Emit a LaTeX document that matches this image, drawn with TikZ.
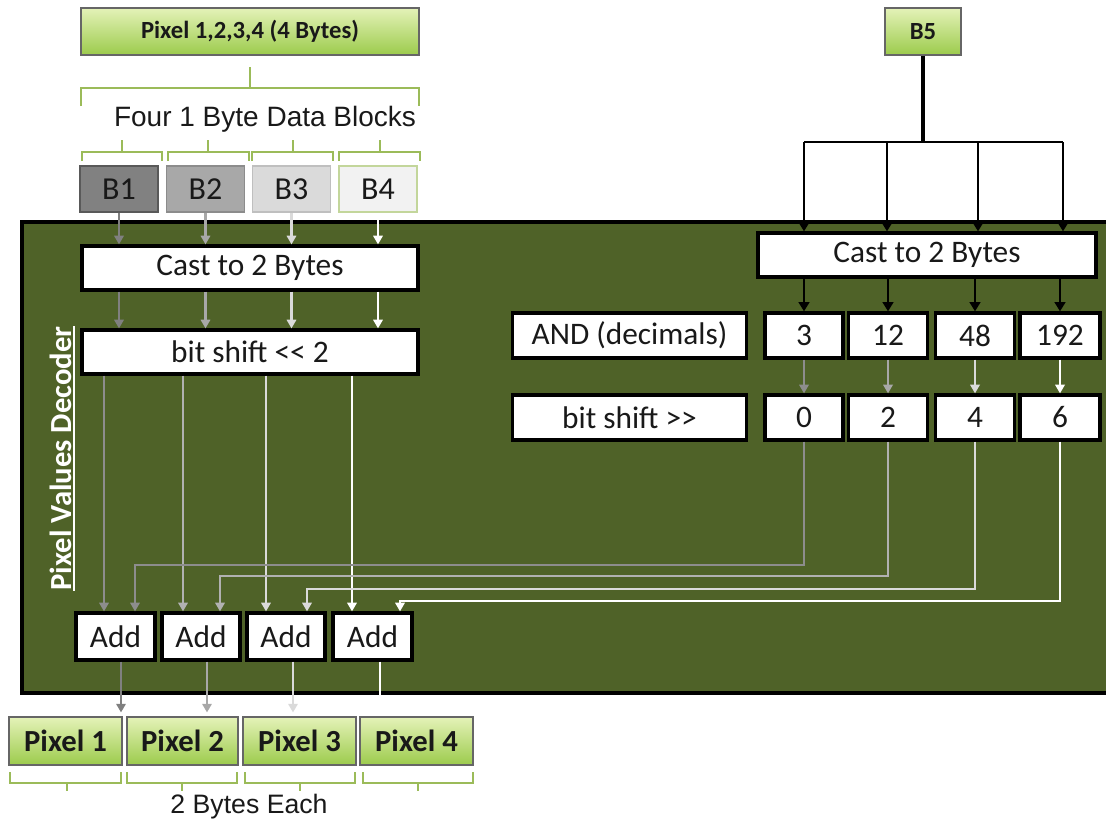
\documentclass[tikz,border=0pt]{standalone}
\usepackage{fontspec}
\setmainfont{Carlito}
\newfontfamily\arialf{Liberation Sans}
\usetikzlibrary{arrows.meta,calc}
\definecolor{panelc}{HTML}{4F6228}
\definecolor{gtop}{HTML}{E4F2B8}
\definecolor{gbot}{HTML}{9CCB4C}
\definecolor{brkc}{HTML}{9BBB59}
\definecolor{cA}{HTML}{808080}
\definecolor{cB}{HTML}{A8A8A8}
\definecolor{cC}{HTML}{DADADA}
\definecolor{cD}{HTML}{FFFFFF}
\begin{document}
\begin{tikzpicture}[x=0.75pt,y=-0.75pt,
  sz/.style 2 args={minimum width=#1*0.75pt, minimum height=#2*0.75pt},
  wbox/.style={draw=black, line width=2.4pt, fill=white, inner sep=0pt, text=black!90,
    font=\fontsize{23.5}{28}\selectfont},
  gbox/.style={draw=black!60, line width=0.8pt, top color=gtop, bottom color=gbot,
    inner sep=0pt, text=black!90, font=\bfseries\fontsize{23}{27}\selectfont},
  bbox/.style={line width=1.2pt, inner sep=0pt, text=black!90, sz={78}{46},
    font=\fontsize{24}{28}\selectfont},
  brk/.style={draw=brkc, line width=2.2pt},
  conn/.style={line width=1.6pt, -{Triangle[width=7pt,length=6.5pt]}},
  bconn/.style={line width=2.2pt, draw=black, -{Triangle[width=8pt,length=7pt]}}]
\useasboundingbox (0,0) rectangle (1106,825);

% top area
\node[gbox, sz={338}{47}, font=\bfseries\fontsize{18.5}{22}\selectfont] (top) at (250,31.5) {Pixel 1,2,3,4 (4 Bytes)};
\node[gbox, sz={76}{47}, font=\bfseries\fontsize{18.5}{22}\selectfont] (b5) at (923,31.5) {B5};
\draw[brk] (81,106) -- (81,88) -- (419,88) -- (419,106);
\draw[brk] (250,88) -- (250,67);
\node[font=\arialf\fontsize{21}{25}\selectfont, text=black!90] (four) at (265,119) {Four 1 Byte Data Blocks};
\foreach \xa/\xb/\xt in {82/162/122, 168/249/208, 252/333/293, 339/420/380}{
  \draw[brk] (\xa,161) -- (\xa,152) -- (\xb,152) -- (\xb,161);
  \draw[brk] (\xt,152) -- (\xt,140);
}
\node[bbox, fill=cA!99, draw=black!65] (b1) at (119,189) {B1};
\node[bbox, fill=cB, draw=black!45] (b2) at (205.5,189) {B2};
\node[bbox, fill=cC, draw=black!25] (b3) at (291.5,189) {B3};
\node[bbox, fill=black!5, draw=brkc!60] (b4) at (378,189) {B4};

% panel
\fill[panelc] (22,222) rectangle (1112,693);
\draw[black, line width=2.4pt] (1112,222) -- (22,222) -- (22,693) -- (1112,693);

\node[rotate=90, anchor=base, text=white, inner sep=0pt, font=\bfseries\fontsize{23}{27}\selectfont] (pvd) at (71,458.5) {Pixel Values Decoder};
\draw[white, line width=1.2pt] ([xshift=2.2pt]pvd.base west) -- ([xshift=2.2pt]pvd.base east);

% left column boxes
\node[wbox, sz={336}{44}] (castL) at (250,268) {Cast to 2 Bytes};
\node[wbox, sz={336}{44}] (shiftL) at (250,352) {bit shift <{}< 2};

% right column boxes
\node[wbox, sz={338}{44}] (castR) at (927,255) {Cast to 2 Bytes};
\node[wbox, sz={234}{45}] (andl) at (629.5,335.5) {AND (decimals)};
\node[wbox, sz={78}{45}] (n3) at (804,335.5) {3};
\node[wbox, sz={79}{45}] (n12) at (888,335.5) {12};
\node[wbox, sz={79}{45}] (n48) at (975,335.5) {48};
\node[wbox, sz={80}{45}] (n192) at (1060,335.5) {192};
\node[wbox, sz={234}{45}] (shiftR) at (629.5,417.5) {bit shift >{}>};
\node[wbox, sz={78}{45}] (s0) at (804,417.5) {0};
\node[wbox, sz={79}{45}] (s2) at (888,417.5) {2};
\node[wbox, sz={79}{45}] (s4) at (975,417.5) {4};
\node[wbox, sz={80}{45}] (s6) at (1060,417.5) {6};

% add boxes
\node[wbox, sz={79}{47}] (a1) at (115.5,636.5) {Add};
\node[wbox, sz={78}{47}] (a2) at (201,636.5) {Add};
\node[wbox, sz={78}{47}] (a3) at (286,636.5) {Add};
\node[wbox, sz={79}{47}] (a4) at (372.5,636.5) {Add};

% pixel boxes
\node[gbox, sz={113}{48}] (p1) at (65.5,741) {Pixel 1};
\node[gbox, sz={111}{48}] (p2) at (182.5,741) {Pixel 2};
\node[gbox, sz={113}{48}] (p3) at (299.5,741) {Pixel 3};
\node[gbox, sz={113}{48}] (p4) at (416.5,741) {Pixel 4};

\foreach \xa/\xb/\xt in {10/121/67, 127/237/182, 245/355/300, 363/473/418}{
  \draw[brk] (\xa,772) -- (\xa,783) -- (\xb,783) -- (\xb,772);
  \draw[brk] (\xt,783) -- (\xt,791);
}
\node[font=\arialf\fontsize{20}{24}\selectfont, text=black!90] (each) at (249,807) {2 Bytes Each};

% coordinates
\coordinate (l1) at (104,0);
\coordinate (l2) at (183,0);
\coordinate (l3) at (266,0);
\coordinate (l4) at (352,0);
\coordinate (h1) at (135,565);
\coordinate (h2) at (220,576);
\coordinate (h3) at (307,589);
\coordinate (h4) at (400,601);
\coordinate (o1) at (121,0);
\coordinate (o2) at (207,0);
\coordinate (o3) at (293,0);
\coordinate (o4) at (380,0);
\coordinate (hub) at (922,142);
\coordinate (q1) at (804,142);
\coordinate (q2) at (887,142);
\coordinate (q3) at (978,142);
\coordinate (q4) at (1063,142);

% left connectors
\foreach \b/\c in {b1/cA, b2/cB, b3/cC, b4/cD}{
  \draw[conn, \c] (\b.south) -- (\b.south |- castL.north);
  \draw[conn, \c] (castL.south -| \b) -- (shiftL.north -| \b);
}
\draw[conn, cA!90] (shiftL.south -| l1) -- (a1.north -| l1);
\draw[conn, cB!90] (shiftL.south -| l2) -- (a2.north -| l2);
\draw[conn, cC] (shiftL.south -| l3) -- (a3.north -| l3);
\draw[conn, cD] (shiftL.south -| l4) -- (a4.north -| l4);

% right connectors
\draw[line width=3pt] (b5.south) -- (b5.south |- hub);
\draw[line width=2.2pt] (q1) -- (q4);
\foreach \q in {q1,q2,q3,q4}{
  \draw[bconn] (\q) -- (\q |- castR.north);
}
\foreach \n in {n3,n12,n48,n192}{
  \draw[bconn] (castR.south -| \n) -- (\n.north);
}
\draw[conn, cA!90] (n3.south) -- (s0.north);
\draw[conn, cB] (n12.south) -- (s2.north);
\draw[conn, cC] (n48.south) -- (s4.north);
\draw[conn, cD] (n192.south) -- (s6.north);

\draw[conn, cA!90] (s0.south) |- (h1) -- (h1 |- a1.north);
\draw[conn, cB!90] (s2.south) |- (h2) -- (h2 |- a2.north);
\draw[conn, cC] (s4.south) |- (h3) -- (h3 |- a3.north);
\draw[conn, cD] (s6.south) |- (h4) -- (h4 |- a4.north);

% outputs
\draw[conn, cA, shorten >=3pt] (a1.south -| o1) -- (p1.north -| o1);
\draw[conn, cB, shorten >=3pt] (a2.south -| o2) -- (p2.north -| o2);
\draw[conn, cC, shorten >=3pt] (a3.south -| o3) -- (p3.north -| o3);
\draw[conn, cD, shorten >=3pt] (a4.south -| o4) -- (p4.north -| o4);
\end{tikzpicture}
\end{document}
